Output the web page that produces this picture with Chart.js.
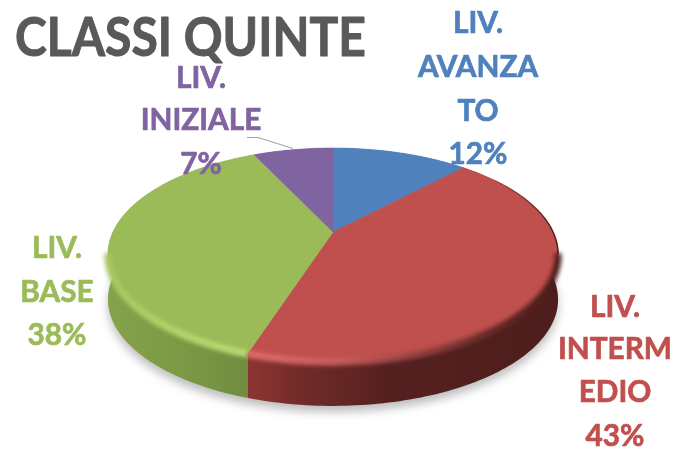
<!DOCTYPE html>
<html>
<head>
<meta charset="utf-8">
<style>html,body{margin:0;padding:0;background:#fff}canvas{display:block}</style>
<script src="https://cdn.jsdelivr.net/npm/chart.js@4"></script>
</head>
<body>
<canvas id="c" width="676" height="449"></canvas>
<script>
const chartTitle = "CLASSI QUINTE";
const categories = ["LIV. AVANZATO", "LIV. INTERMEDIO", "LIV. BASE", "LIV. INIZIALE"];
const values = [12, 43, 38, 7];
const colors = ["#4f81bd", "#c0504d", "#9bbb59", "#8064a2"];
const labelLines = [
  ["LIV.", "AVANZA", "TO", "12%"],
  ["LIV.", "INTERM", "EDIO", "43%"],
  ["LIV.", "BASE", "38%"],
  ["LIV.", "INIZIALE", "7%"]
];

const view = {cx: 333, cy: 232, a: 220, b: 101.7, k: 0.211, depth: 45};
const labelPos = [
  {x: 478, y: [33, 77, 121, 164]},
  {x: 615, y: [317, 359, 402, 446]},
  {x: 57,  y: [258, 302, 345]},
  {x: 201, y: [88, 130, 174]}
];
const sideStops = [
  [[0, "#3a5f8c"], [1, "#3a5f8c"]],
  [[0, "#8c3532"], [0.2, "#6e2a28"], [0.45, "#552120"], [1, "#4c1d1c"]],
  [[0, "#84a34a"], [0.5, "#7c9a46"], [1, "#708d40"]],
  [[0, "#5e4a78"], [1, "#5e4a78"]]
];

function project(angle) {
  const X = Math.cos(angle), Y = Math.sin(angle), w = 1 - view.k * Y;
  return {x: view.cx + view.a * X / w, y: view.cy + view.b * Y / w};
}
function arcPoints(a0, a1) {
  const n = Math.max(2, Math.ceil(Math.abs(a1 - a0) / 0.02)), pts = [];
  for (let i = 0; i <= n; i++) pts.push(project(a0 + (a1 - a0) * i / n));
  return pts;
}
function moveTrace(ctx, pts, dy) {
  pts.forEach((p, i) => i ? ctx.lineTo(p.x, p.y + dy) : ctx.moveTo(p.x, p.y + dy));
}
function lineTrace(ctx, pts, dy) {
  pts.forEach(p => ctx.lineTo(p.x, p.y + dy));
}
function linear(ctx, x0, x1, stops) {
  const g = ctx.createLinearGradient(x0, 0, x1, 0);
  stops.forEach(s => g.addColorStop(s[0], s[1]));
  return g;
}

const pie3d = {
  id: "pie3d",
  beforeDatasetsDraw(chart) {
    const ctx = chart.ctx, arcs = chart.getDatasetMeta(0).data;
    const whole = arcPoints(0, Math.PI * 2);
    const rightEnd = Math.asin(view.k);
    const leftEnd = Math.PI - rightEnd;

    // ground shadow
    ctx.save();
    ctx.filter = "blur(5px)";
    ctx.fillStyle = "rgba(90,90,90,0.4)";
    ctx.beginPath();
    moveTrace(ctx, whole, view.depth + 6);
    ctx.fill();
    ctx.restore();

    // side wall
    arcs.forEach((arc, i) => {
      const pts = arcPoints(arc.startAngle, arc.endAngle);
      const s = Math.max(arc.startAngle, rightEnd), e = Math.min(arc.endAngle, leftEnd);
      ctx.beginPath();
      moveTrace(ctx, pts, 0);
      lineTrace(ctx, pts.slice().reverse(), view.depth);
      ctx.closePath();
      if (e > s) {
        const xs = arcPoints(s, e).map(p => p.x);
        ctx.fillStyle = linear(ctx, Math.min(...xs), Math.max(...xs), sideStops[i]);
      } else ctx.fillStyle = colors[i];
      ctx.fill();
    });

    // top faces
    arcs.forEach((arc) => {
      ctx.beginPath();
      ctx.moveTo(view.cx, view.cy);
      lineTrace(ctx, arcPoints(arc.startAngle, arc.endAngle), 0);
      ctx.closePath();
      ctx.fillStyle = arc.options.backgroundColor;
      ctx.fill();
      ctx.strokeStyle = arc.options.backgroundColor;
      ctx.lineWidth = 0.6;
      ctx.stroke();
    });

    // rim highlight (bevel) on the front edge
    const red = arcs[1], green = arcs[2];
    ctx.save();
    ctx.filter = "blur(2px)";
    ctx.lineCap = "butt";
    ctx.lineWidth = 7;
    ctx.beginPath();
    moveTrace(ctx, arcPoints(green.startAngle, leftEnd + 0.02), 1);
    ctx.strokeStyle = linear(ctx, 107, 250, [[0, "#a8c663"], [0.5, "#b6d66c"], [1, "#bedc72"]]);
    ctx.stroke();
    ctx.beginPath();
    moveTrace(ctx, arcPoints(rightEnd - 0.02, red.endAngle), 1);
    ctx.strokeStyle = linear(ctx, 250, 557, [[0, "#e26d6c"], [0.28, "#c9605c"], [0.5, "#a04846"], [0.75, "#702e2c"], [1, "#4c1d1c"]]);
    ctx.stroke();
    ctx.restore();
    ctx.lineWidth = 1.5;
    ctx.beginPath();
    moveTrace(ctx, arcPoints(-0.6, rightEnd), 0);
    ctx.strokeStyle = linear(ctx, 480, 557, [[0, "rgba(90,40,38,0.1)"], [1, "#4c1d1c"]]);
    ctx.stroke();

    // leader line of the smallest slice
    ctx.strokeStyle = "#a6a6a6";
    ctx.lineWidth = 1.2;
    ctx.beginPath();
    ctx.moveTo(247, 137.5); ctx.lineTo(258, 137.5); ctx.lineTo(293, 148.5);
    ctx.stroke();

    // title and labels
    ctx.lineJoin = "round";
    ctx.textAlign = "left";
    ctx.textBaseline = "alphabetic";
    ctx.font = "bold 53px Lato";
    ctx.fillStyle = "#595959";
    ctx.strokeStyle = "#595959";
    ctx.lineWidth = 1;
    ctx.fillText(chartTitle, 15, 56, 351);
    ctx.strokeText(chartTitle, 15, 56, 351);
    ctx.textAlign = "center";
    ctx.font = "bold 31px Lato";
    ctx.lineWidth = 0.7;
    labelLines.forEach((lines, i) => {
      ctx.fillStyle = colors[i];
      ctx.strokeStyle = colors[i];
      lines.forEach((t, j) => {
        const w = ctx.measureText(t).width * 0.96;
        ctx.fillText(t, labelPos[i].x, labelPos[i].y[j], w);
        ctx.strokeText(t, labelPos[i].x, labelPos[i].y[j], w);
      });
    });
    return false;
  }
};

new Chart(document.getElementById("c"), {
  type: "pie",
  data: {labels: categories, datasets: [{data: values, backgroundColor: colors, borderWidth: 0}]},
  options: {
    responsive: false,
    animation: false,
    plugins: {legend: {display: false}, tooltip: {enabled: false}}
  },
  plugins: [pie3d]
});
</script>
</body>
</html>
